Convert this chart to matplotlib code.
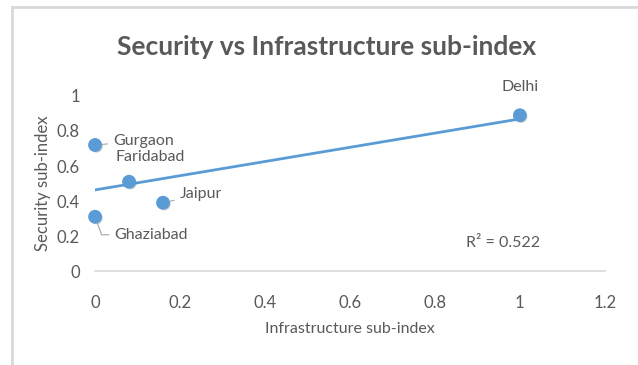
import numpy as np
import matplotlib.pyplot as plt
import matplotlib.patheffects as pe
from matplotlib.lines import Line2D

plt.rcParams['font.family'] = ['Lato', 'DejaVu Sans']

cities = ["Gurgaon", "Faridabad", "Jaipur", "Ghaziabad", "Delhi"]
infra = [0.0, 0.08, 0.16, 0.0, 1.0]
security = [0.72, 0.51, 0.39, 0.31, 0.89]

# label offsets in points, leader line style (None = no leader), alignment
label_pos = {
    "Gurgaon": ((13, 3), "arc3", "left"),
    "Faridabad": ((-10, 18), None, "left"),
    "Jaipur": ((12, 6), "arc3", "left"),
    "Ghaziabad": ((14, -13), "angle,angleA=0,angleB=-70,rad=0", "left"),
    "Delhi": ((0, 20), None, "center"),
}

grey = "#595959"
blue = "#5B9BD5"

fig = plt.figure(figsize=(6.38, 3.65), dpi=100)
ax = fig.add_axes([0.149, 0.2575, 0.799, 0.4795])

# outer chart border (top and left visible)
fig.add_artist(Line2D([0.019, 1.0], [0.981, 0.981], color="#D9D9D9", lw=2, transform=fig.transFigure))
fig.add_artist(Line2D([0.019, 0.019], [0.0, 0.981], color="#D9D9D9", lw=2, transform=fig.transFigure))

x = np.array(infra)
y = np.array(security)
m, b = np.polyfit(x, y, 1)
r2 = np.corrcoef(x, y)[0, 1] ** 2

xs = np.array([x.min(), x.max()])
ax.plot(xs, m * xs + b, color=blue, lw=2, zorder=2)

ax.scatter(x, y, s=80, color=blue, zorder=3, clip_on=False,
           path_effects=[pe.SimplePatchShadow(offset=(1, -1), alpha=0.25), pe.Normal()])

for name, xi, yi in zip(cities, infra, security):
    off, conn, ha = label_pos[name]
    arrow = None
    if conn:
        arrow = dict(arrowstyle="-", color="#A6A6A6", lw=0.8, shrinkA=2, shrinkB=5,
                     connectionstyle=conn)
    ax.annotate(name, (xi, yi), xytext=off, textcoords="offset points",
                ha=ha, va="center", fontsize=11.5, color=grey,
                arrowprops=arrow, annotation_clip=False)

ax.text(0.96, 0.16, "R² = " + f"{r2:.3f}", ha="center", va="center", fontsize=11.5, color=grey)

ax.set_xlim(0, 1.2)
ax.set_ylim(0, 1)
ax.set_xticks([0, 0.2, 0.4, 0.6, 0.8, 1, 1.2])
ax.set_xticklabels(["0", "0.2", "0.4", "0.6", "0.8", "1", "1.2"])
ax.set_yticks([0, 0.2, 0.4, 0.6, 0.8, 1])
ax.set_yticklabels(["0", "0.2", "0.4", "0.6", "0.8", "1"])
ax.tick_params(length=0, labelsize=12, labelcolor=grey)
ax.tick_params(axis="y", pad=11)
ax.tick_params(axis="x", pad=17)

for side in ["top", "right", "left"]:
    ax.spines[side].set_visible(False)
ax.spines["bottom"].set_color("#D9D9D9")
ax.spines["bottom"].set_linewidth(1.2)

ax.set_xlabel("Infrastructure sub-index", fontsize=11.5, color=grey, labelpad=8)
ax.set_ylabel("Security sub-index", fontsize=12, color=grey, labelpad=4)

fig.text(0.512, 0.87, "Security vs Infrastructure sub-index", ha="center", va="center",
         fontsize=19, fontweight="bold", color=grey)

fig.savefig("out.png", dpi=100, facecolor="white")
